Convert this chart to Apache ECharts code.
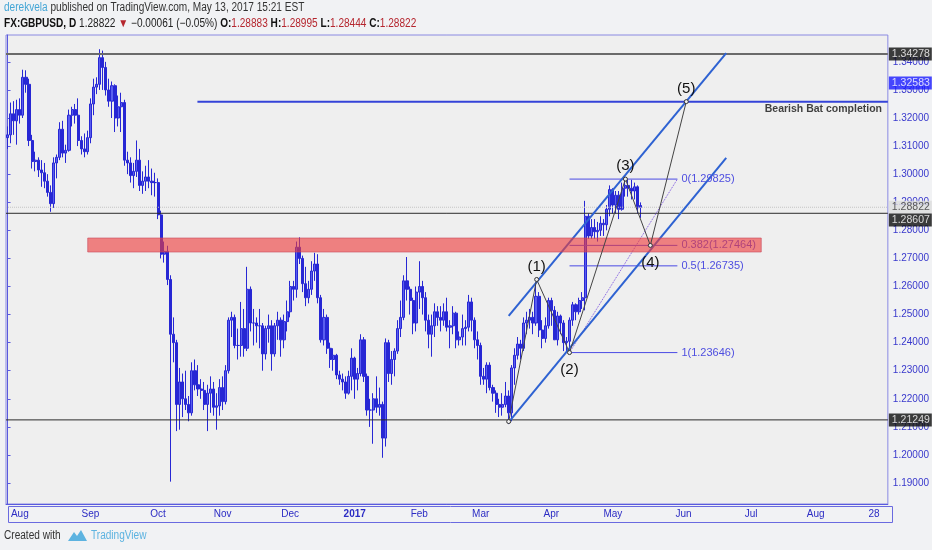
<!DOCTYPE html>
<html>
<head>
<meta charset="utf-8">
<script src="https://cdn.jsdelivr.net/npm/echarts@6/dist/echarts.min.js"></script>
<style>
  html, body { margin: 0; padding: 0; background: #f1f2f4; }
  #chart { width: 932px; height: 550px; }
</style>
</head>
<body>
<div id="chart"></div>
<script>
"use strict";

// ---- data -------------------------------------------------------------
const START_DATE = "2016-07-26";            // first weekday bar on the left edge
const BAR_COUNT = 287;                      // bar slots across the plot (runs into Aug 2017)
const NO_BAR_DAYS = ["2016-12-26", "2017-01-02"];  // holidays with no daily bar

// x tick labels: [date, label]
const monthTicks = [
  ["2016-08-01", "Aug"], ["2016-09-01", "Sep"], ["2016-10-03", "Oct"], ["2016-11-01", "Nov"],
  ["2016-12-01", "Dec"], ["2017-01-03", "2017"], ["2017-02-01", "Feb"], ["2017-03-01", "Mar"],
  ["2017-04-03", "Apr"], ["2017-05-01", "May"], ["2017-06-01", "Jun"], ["2017-07-03", "Jul"],
  ["2017-08-01", "Aug"], ["2017-08-28", "28"],
];

// daily GBPUSD bars [open, high, low, close], one per trading day from START_DATE
const ohlc = [
  [1.3130, 1.3170, 1.3090, 1.3140], [1.3140, 1.3255, 1.3110, 1.3215], [1.3215, 1.3260, 1.3140, 1.3190],
  [1.3190, 1.3265, 1.3105, 1.3230], [1.3230, 1.3270, 1.3180, 1.3210], [1.3210, 1.3372, 1.3200, 1.3345],
  [1.3345, 1.3370, 1.3290, 1.3320], [1.3320, 1.3340, 1.3100, 1.3120], [1.3120, 1.3140, 1.3020, 1.3045],
  [1.3045, 1.3080, 1.3010, 1.3050], [1.3050, 1.3060, 1.2990, 1.3015], [1.3015, 1.3050, 1.2955, 1.3005],
  [1.3005, 1.3040, 1.2950, 1.2975], [1.2975, 1.3000, 1.2920, 1.2935], [1.2935, 1.2960, 1.2866, 1.2895],
  [1.2895, 1.3060, 1.2880, 1.3040], [1.3040, 1.3070, 1.2985, 1.3060], [1.3060, 1.3185, 1.3050, 1.3160],
  [1.3160, 1.3190, 1.3060, 1.3075], [1.3075, 1.3105, 1.3040, 1.3085], [1.3085, 1.3230, 1.3080, 1.3210],
  [1.3210, 1.3240, 1.3170, 1.3230], [1.3230, 1.3250, 1.3180, 1.3210], [1.3210, 1.3270, 1.3100, 1.3120],
  [1.3120, 1.3135, 1.3070, 1.3090], [1.3090, 1.3145, 1.3060, 1.3080], [1.3080, 1.3155, 1.3070, 1.3130],
  [1.3130, 1.3270, 1.3110, 1.3250], [1.3250, 1.3340, 1.3210, 1.3310], [1.3310, 1.3345, 1.3285, 1.3320],
  [1.3320, 1.3445, 1.3300, 1.3415], [1.3415, 1.3440, 1.3300, 1.3380], [1.3380, 1.3400, 1.3280, 1.3300],
  [1.3300, 1.3340, 1.3240, 1.3260], [1.3260, 1.3330, 1.3200, 1.3315], [1.3315, 1.3320, 1.3150, 1.3200],
  [1.3200, 1.3280, 1.3170, 1.3240], [1.3240, 1.3290, 1.3150, 1.3255], [1.3255, 1.3265, 1.3030, 1.3050],
  [1.3050, 1.3080, 1.3000, 1.3040], [1.3040, 1.3060, 1.2970, 1.2995], [1.2995, 1.3040, 1.2950, 1.3010],
  [1.3010, 1.3120, 1.2990, 1.3050], [1.3050, 1.3090, 1.2940, 1.2960], [1.2960, 1.3010, 1.2930, 1.2975],
  [1.2975, 1.3030, 1.2940, 1.2990], [1.2990, 1.3050, 1.2950, 1.2975], [1.2975, 1.3020, 1.2925, 1.2970],
  [1.2970, 1.3005, 1.2920, 1.2970], [1.2970, 1.2985, 1.2840, 1.2855], [1.2855, 1.2870, 1.2700, 1.2715],
  [1.2715, 1.2760, 1.2685, 1.2725], [1.2725, 1.2745, 1.2605, 1.2625], [1.2625, 1.2640, 1.1905, 1.2430],
  [1.2430, 1.2490, 1.2330, 1.2400], [1.2400, 1.2410, 1.2085, 1.2180], [1.2180, 1.2310, 1.2090, 1.2260],
  [1.2260, 1.2290, 1.2135, 1.2200], [1.2200, 1.2300, 1.2160, 1.2180], [1.2180, 1.2210, 1.2120, 1.2150],
  [1.2150, 1.2330, 1.2140, 1.2300], [1.2300, 1.2340, 1.2230, 1.2250], [1.2250, 1.2320, 1.2210, 1.2235],
  [1.2235, 1.2270, 1.2200, 1.2230], [1.2230, 1.2260, 1.2160, 1.2180], [1.2180, 1.2250, 1.2085, 1.2220],
  [1.2220, 1.2280, 1.2150, 1.2235], [1.2235, 1.2260, 1.2140, 1.2170], [1.2170, 1.2220, 1.2090, 1.2175],
  [1.2175, 1.2270, 1.2140, 1.2240], [1.2240, 1.2280, 1.2160, 1.2190], [1.2190, 1.2320, 1.2180, 1.2300],
  [1.2300, 1.2490, 1.2290, 1.2480], [1.2480, 1.2510, 1.2420, 1.2490], [1.2490, 1.2500, 1.2380, 1.2390],
  [1.2390, 1.2450, 1.2340, 1.2390], [1.2390, 1.2545, 1.2350, 1.2450], [1.2450, 1.2520, 1.2350, 1.2380],
  [1.2380, 1.2670, 1.2370, 1.2590], [1.2590, 1.2600, 1.2440, 1.2470], [1.2470, 1.2520, 1.2390, 1.2470],
  [1.2470, 1.2490, 1.2400, 1.2460], [1.2460, 1.2520, 1.2380, 1.2460], [1.2460, 1.2470, 1.2300, 1.2360],
  [1.2360, 1.2460, 1.2340, 1.2450], [1.2450, 1.2500, 1.2400, 1.2460], [1.2460, 1.2480, 1.2300, 1.2360],
  [1.2360, 1.2470, 1.2350, 1.2460], [1.2460, 1.2510, 1.2410, 1.2480], [1.2480, 1.2490, 1.2350, 1.2410],
  [1.2410, 1.2500, 1.2380, 1.2475], [1.2475, 1.2550, 1.2440, 1.2510], [1.2510, 1.2620, 1.2490, 1.2600],
  [1.2600, 1.2620, 1.2550, 1.2590], [1.2590, 1.2760, 1.2560, 1.2740], [1.2740, 1.2775, 1.2680, 1.2700],
  [1.2700, 1.2710, 1.2580, 1.2610], [1.2610, 1.2670, 1.2530, 1.2560], [1.2560, 1.2620, 1.2540, 1.2590],
  [1.2590, 1.2690, 1.2570, 1.2655], [1.2655, 1.2720, 1.2620, 1.2680], [1.2680, 1.2715, 1.2540, 1.2560],
  [1.2560, 1.2570, 1.2400, 1.2410], [1.2410, 1.2520, 1.2390, 1.2490], [1.2490, 1.2500, 1.2360, 1.2380],
  [1.2380, 1.2400, 1.2310, 1.2340], [1.2340, 1.2380, 1.2300, 1.2355], [1.2355, 1.2360, 1.2270, 1.2285],
  [1.2285, 1.2300, 1.2250, 1.2270], [1.2270, 1.2290, 1.2230, 1.2260],
  [1.2260, 1.2280, 1.2200, 1.2220], [1.2220, 1.2300, 1.2215, 1.2280], [1.2280, 1.2380, 1.2230, 1.2345],
  [1.2345, 1.2350, 1.2200, 1.2270], [1.2270, 1.2310, 1.2230, 1.2290],
  [1.2290, 1.2430, 1.2280, 1.2410], [1.2410, 1.2420, 1.2260, 1.2280], [1.2280, 1.2290, 1.2140, 1.2160],
  [1.2160, 1.2200, 1.2100, 1.2160], [1.2160, 1.2220, 1.2040, 1.2200], [1.2200, 1.2280, 1.2150, 1.2170],
  [1.2170, 1.2240, 1.2140, 1.2180], [1.2180, 1.2190, 1.1990, 1.2060], [1.2060, 1.2415, 1.2030, 1.2400],
  [1.2400, 1.2410, 1.2260, 1.2290], [1.2290, 1.2370, 1.2250, 1.2340], [1.2340, 1.2380, 1.2280, 1.2370],
  [1.2370, 1.2480, 1.2360, 1.2450], [1.2450, 1.2550, 1.2420, 1.2490], [1.2490, 1.2640, 1.2480, 1.2620],
  [1.2620, 1.2705, 1.2550, 1.2590], [1.2590, 1.2600, 1.2500, 1.2550], [1.2550, 1.2560, 1.2430, 1.2470],
  [1.2470, 1.2600, 1.2440, 1.2580], [1.2580, 1.2690, 1.2520, 1.2600], [1.2600, 1.2620, 1.2500, 1.2560],
  [1.2560, 1.2580, 1.2440, 1.2480], [1.2480, 1.2500, 1.2380, 1.2430], [1.2430, 1.2500, 1.2350, 1.2460],
  [1.2460, 1.2540, 1.2420, 1.2510], [1.2510, 1.2530, 1.2460, 1.2490], [1.2490, 1.2530, 1.2440, 1.2480],
  [1.2480, 1.2540, 1.2460, 1.2510], [1.2510, 1.2560, 1.2440, 1.2455], [1.2455, 1.2480, 1.2380, 1.2460],
  [1.2460, 1.2530, 1.2430, 1.2505], [1.2505, 1.2510, 1.2380, 1.2410], [1.2410, 1.2440, 1.2390, 1.2420],
  [1.2420, 1.2500, 1.2390, 1.2450], [1.2450, 1.2480, 1.2390, 1.2455], [1.2455, 1.2570, 1.2440, 1.2545],
  [1.2545, 1.2560, 1.2440, 1.2480], [1.2480, 1.2490, 1.2380, 1.2410], [1.2410, 1.2440, 1.2340, 1.2390],
  [1.2390, 1.2400, 1.2250, 1.2280], [1.2280, 1.2310, 1.2250, 1.2270], [1.2270, 1.2330, 1.2220, 1.2320],
  [1.2320, 1.2330, 1.2230, 1.2240], [1.2240, 1.2250, 1.2190, 1.2220], [1.2220, 1.2230, 1.2150, 1.2180],
  [1.2180, 1.2200, 1.2135, 1.2170], [1.2170, 1.2220, 1.2140, 1.2180], [1.2180, 1.2260, 1.2170, 1.2210],
  [1.2210, 1.2230, 1.2110, 1.2150], [1.2150, 1.2320, 1.2120, 1.2310], [1.2310, 1.2380, 1.2250, 1.2355],
  [1.2355, 1.2420, 1.2340, 1.2395], [1.2395, 1.2410, 1.2340, 1.2380], [1.2380, 1.2490, 1.2370, 1.2470],
  [1.2470, 1.2510, 1.2430, 1.2480], [1.2480, 1.2520, 1.2450, 1.2490], [1.2490, 1.2510, 1.2430, 1.2470],
  [1.2470, 1.2615, 1.2460, 1.2565], [1.2565, 1.2580, 1.2420, 1.2445], [1.2445, 1.2480, 1.2380, 1.2415],
  [1.2415, 1.2490, 1.2400, 1.2460], [1.2460, 1.2560, 1.2450, 1.2550], [1.2550, 1.2560, 1.2460, 1.2515],
  [1.2515, 1.2530, 1.2410, 1.2410], [1.2410, 1.2510, 1.2390, 1.2495], [1.2495, 1.2500, 1.2430, 1.2470],
  [1.2470, 1.2480, 1.2370, 1.2400], [1.2400, 1.2420, 1.2370, 1.2405], [1.2405, 1.2490, 1.2365, 1.2480],
  [1.2480, 1.2545, 1.2460, 1.2535], [1.2535, 1.2540, 1.2480, 1.2510], [1.2510, 1.2560, 1.2500, 1.2550],
  [1.2550, 1.2580, 1.2520, 1.2560], [1.2560, 1.2905, 1.2515, 1.2850], [1.2850, 1.2860, 1.2770, 1.2780],
  [1.2780, 1.2840, 1.2770, 1.2810], [1.2810, 1.2840, 1.2770, 1.2795], [1.2795, 1.2830, 1.2760, 1.2800],
  [1.2800, 1.2850, 1.2780, 1.2825], [1.2825, 1.2840, 1.2780, 1.2820], [1.2820, 1.2890, 1.2800, 1.2875],
  [1.2875, 1.2960, 1.2850, 1.2945], [1.2945, 1.2950, 1.2860, 1.2890], [1.2890, 1.2940, 1.2860, 1.2925],
  [1.2925, 1.2940, 1.2840, 1.2875], [1.2875, 1.2970, 1.2870, 1.2950], [1.2950, 1.2990, 1.2920, 1.2960],
  [1.2960, 1.2980, 1.2920, 1.2950], [1.2950, 1.2980, 1.2910, 1.2940], [1.2940, 1.2970, 1.2910, 1.2955],
  [1.2955, 1.2960, 1.2860, 1.2880], [1.28883, 1.28995, 1.28444, 1.28822],
];

// horizontal levels
const supportLevels = [1.34278, 1.28607, 1.21249];
const lastPrice = 1.28822;
const batLevel = 1.32583;
const batStartBar = 61.8;

// supply / demand zone [fromBar, toBar, top, bottom]
const redZone = [26.1, 245.3, 1.27726, 1.27228];

// elliott count: bar position, price
const waveBars = [163.1, 172.2, 182.9, 201.1, 209.2, 220.9];
const wavePrices = [1.2119, 1.2625, 1.23646, 1.29825, 1.27464, 1.32583];
const waveNames = ["", "(1)", "(2)", "(3)", "(4)", "(5)"];

// channel lines [[bar, price], [bar, price]]
const channelUpper = [[163.1, 1.2495], [233.9, 1.3431]];
const channelLower = [[163.1, 1.2117], [233.9, 1.3058]];

// fib retracement drawn from (2) to (3)
const fibRatios = ["0", "0.382", "0.5", "1"];
const fibPrices = [1.29825, 1.27464, 1.26735, 1.23646];
const fibFromBar = 182.9;
const fibToBar = 218.0;

// right-axis price badges: text, price it sits at (TradingView nudges overlapping ones)
const badgeTexts = ["1.34278", "1.32583", "1.28822", "1.28607", "1.21249"];
const badgeAt = [1.34278, 1.3325, 1.28822, 1.2837, 1.21249];

// ---- helpers ----------------------------------------------------------
const SANS = "'Liberation Sans', Arial, sans-serif";

const dates = [];
for (let d = new Date(START_DATE + "T00:00:00Z"); dates.length < BAR_COUNT; d.setUTCDate(d.getUTCDate() + 1)) {
  const wd = d.getUTCDay();
  const s = d.toISOString().slice(0, 10);
  if (wd !== 0 && wd !== 6 && !NO_BAR_DAYS.includes(s)) dates.push(s);
}
const tickMap = new Map(monthTicks);
const FIRST = -0.5, LAST = BAR_COUNT - 0.5;

const hline = (price, from, color, width, type) => ({
  type: "line", xAxisIndex: 1, yAxisIndex: 0, silent: true, showSymbol: false, z: 3,
  data: [[from, price], [LAST, price]],
  lineStyle: { color, width, type: type || "solid" },
});

const seg = (pts, color, width, type) => ({
  type: "line", xAxisIndex: 1, yAxisIndex: 0, silent: true, showSymbol: false, z: 3,
  data: pts, lineStyle: { color, width, type: type || "solid" },
});

// ---- chart ------------------------------------------------------------
const chart = echarts.init(document.getElementById("chart"));

const series = [
  {
    type: "candlestick", name: "GBPUSD", z: 2,
    barWidth: 2.6,
    data: ohlc.map(([o, h, l, c]) => [o, c, l, h]),
    itemStyle: { color: "#5a5eef", color0: "#2727d4", borderColor: "#2727d4", borderColor0: "#2727d4", borderWidth: 1 },
  },
  hline(supportLevels[0], FIRST, "#6a6a6a", 2),
  hline(supportLevels[1], FIRST, "#2b2b2b", 1),
  hline(supportLevels[2], FIRST, "#2b2b2b", 1),
  hline(lastPrice, FIRST, "#c4c4c4", 1, "dotted"),
  hline(batLevel, batStartBar, "#3443d8", 2),
  ...fibPrices.map((p, i) => ({
    ...seg([[fibFromBar, p], [fibToBar, p]], "#4a4ae4", 1),
    endLabel: {
      show: true, distance: 4, formatter: `${fibRatios[i]}(${p.toFixed(5)})`,
      color: "#4e4ee0", fontSize: 11, fontFamily: SANS,
    },
  })),
  seg([[waveBars[2], wavePrices[2]], [fibToBar, fibPrices[0]]], "#7a52e0", 1, "dotted"),
  seg(channelUpper, "#2e62d2", 2),
  seg(channelLower, "#2e62d2", 2),
  {
    type: "custom", xAxisIndex: 1, yAxisIndex: 0, z: 4, silent: true,
    data: [redZone],
    encode: { x: [0, 1], y: [2, 3] },
    renderItem: (params, api) => {
      const a = api.coord([api.value(0), api.value(2)]);
      const b = api.coord([api.value(1), api.value(3)]);
      return {
        type: "rect",
        shape: { x: a[0], y: a[1], width: b[0] - a[0], height: b[1] - a[1] },
        style: { fill: "rgba(238,60,60,0.62)", stroke: "rgba(200,70,90,0.6)", lineWidth: 1 },
      };
    },
  },
  {
    type: "line", xAxisIndex: 1, yAxisIndex: 0, silent: true, z: 5,
    data: waveBars.map((b, i) => ({
      value: [b, wavePrices[i]],
      label: {
        show: !!waveNames[i], formatter: waveNames[i],
        position: i % 2 ? "top" : "bottom", distance: i % 2 ? 3 : 7,
        color: "#111", fontSize: 15, fontFamily: SANS,
      },
    })),
    symbol: "circle", symbolSize: 4, showSymbol: true,
    itemStyle: { color: "#efefef", borderColor: "#333", borderWidth: 1 },
    lineStyle: { color: "#444", width: 1 },
  },
  {
    type: "scatter", xAxisIndex: 1, yAxisIndex: 0, silent: true, z: 6, symbolSize: 0, clip: false,
    data: [{
      value: [284.6, batLevel],
      label: {
        show: true, formatter: "Bearish Bat completion", position: [0, 0],
        align: "right", verticalAlign: "top", offset: [0, 2],
        color: "#111", fontSize: 10.5, fontWeight: "bold", fontFamily: SANS,
      },
    }],
  },
  {
    type: "scatter", xAxisIndex: 1, yAxisIndex: 0, silent: true, z: 20, zlevel: 1, symbolSize: 0, clip: false,
    data: badgeTexts.map((t, i) => ({
      value: [LAST, badgeAt[i]],
      label: {
        show: true, formatter: t, position: "right", distance: 1,
        color: i === 2 ? "#333" : "#fff",
        backgroundColor: i === 1 ? "#1a1aff" : (i === 2 ? "#dcdcdc" : "#0d0d0d"),
        padding: [1, 2, 1, 3], fontSize: 10.5, fontFamily: SANS,
      },
    })),
  },
];

chart.setOption({
  animation: false,
  backgroundColor: "#f1f2f4",
  grid: {
    left: 6, right: 42, top: 35, bottom: 46,
    show: true, backgroundColor: "#efefef", borderColor: "#8a8ae2", borderWidth: 1,
  },
  xAxis: [
    {
      type: "category", data: dates, boundaryGap: true,
      axisLine: { lineStyle: { color: "#5a5ade", width: 1 } },
      axisTick: { interval: (i, v) => tickMap.has(v), length: 3, lineStyle: { color: "#5a5ade" } },
      axisLabel: {
        interval: (i, v) => tickMap.has(v), margin: 5,
        formatter: (v) => (tickMap.get(v) === "2017" ? "{b|2017}" : tickMap.get(v)),
        color: "#2c2cc4", fontSize: 10, fontFamily: SANS,
        rich: { b: { fontWeight: "bold", color: "#2c2cc4", fontSize: 10, fontFamily: SANS } },
      },
      splitLine: { show: false },
    },
    { type: "value", min: FIRST, max: LAST, show: false },
  ],
  yAxis: {
    type: "value", position: "right", scale: true,
    min: 1.18254, max: 1.34956, splitNumber: 17,
    axisLine: { show: true, lineStyle: { color: "#5a5ade" } },
    axisTick: { show: true, length: 3, lineStyle: { color: "#5a5ade" } },
    axisLabel: {
      showMinLabel: false, showMaxLabel: false, margin: 5,
      formatter: (v) => v.toFixed(5), color: "#3838cc", fontSize: 10, fontFamily: SANS,
    },
    splitLine: { show: false },
  },
  graphic: [
    {
      type: "text", left: 4, top: 2, scaleX: 0.84,
      style: {
        text: "{a|derekvela}{b| published on TradingView.com, May 13, 2017 15:21 EST}",
        rich: {
          a: { fill: "#45a6d6", fontSize: 12, fontFamily: SANS },
          b: { fill: "#333", fontSize: 12, fontFamily: SANS },
        },
      },
    },
    {
      type: "text", left: 4, top: 18, scaleX: 0.84,
      style: {
        text: "{k|FX:GBPUSD, D}{n| 1.28822 }{r|▼}{n| −0.00061 (−0.05%) }{k|O:}{r|1.28883}{k| H:}{r|1.28995}{k| L:}{r|1.28444}{k| C:}{r|1.28822}",
        rich: {
          k: { fill: "#111", fontWeight: "bold", fontSize: 12, fontFamily: SANS },
          n: { fill: "#222", fontSize: 12, fontFamily: SANS },
          r: { fill: "#b5262e", fontSize: 12, fontFamily: SANS },
        },
      },
    },
    {
      type: "rect", left: 6, top: 504, silent: true,
      shape: { width: 884, height: 16 },
      style: { fill: "none", stroke: "#6a6ae0", lineWidth: 1 },
    },
    {
      type: "text", left: 4, top: 530, scaleX: 0.84,
      style: { text: "Created with", fill: "#333", fontSize: 12, fontFamily: SANS },
    },
    {
      type: "polygon", silent: true,
      shape: { points: [[68, 541], [74, 532], [77, 536], [81, 530], [87, 541]] },
      style: { fill: "#5db3e0" },
    },
    {
      type: "text", left: 91, top: 530, scaleX: 0.84,
      style: { text: "TradingView", fill: "#5db3e0", fontSize: 12, fontFamily: SANS },
    },
  ],
  series,
});
</script>
</body>
</html>
